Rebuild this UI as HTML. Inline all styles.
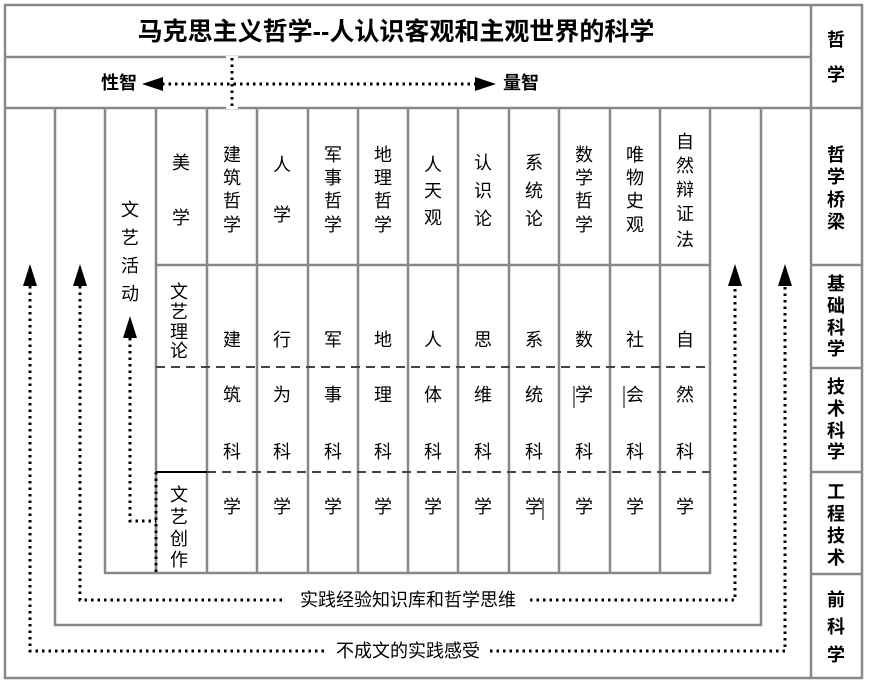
<!DOCTYPE html>
<html><head><meta charset="utf-8"><style>
html,body{margin:0;padding:0;background:#fff}
svg{display:block}
text{font-family:"Liberation Sans","Noto Sans CJK SC",sans-serif;font-size:18px;fill:#000;text-anchor:middle;dominant-baseline:central}
.b{font-weight:bold}
</style></head><body>
<svg width="870" height="682" viewBox="0 0 870 682" xmlns="http://www.w3.org/2000/svg">
<g stroke="#888" stroke-width="2.5" fill="none">
<rect x="5" y="5" width="857" height="673"/>
<line x1="811" y1="5" x2="811" y2="678"/>
<line x1="5" y1="57" x2="811" y2="57"/>
<line x1="5" y1="108" x2="862" y2="108"/>
<line x1="811" y1="265" x2="862" y2="265"/>
<line x1="811" y1="368" x2="862" y2="368"/>
<line x1="811" y1="472" x2="862" y2="472"/>
<line x1="811" y1="574" x2="862" y2="574"/>
<polyline points="55,108 55,625 761,625 761,108"/>
<polyline points="105,108 105,573 710,573 710,108"/>
<line x1="156" y1="108" x2="156" y2="573"/>
<line x1="207" y1="108" x2="207" y2="573"/>
<line x1="257" y1="108" x2="257" y2="573"/>
<line x1="308" y1="108" x2="308" y2="573"/>
<line x1="358" y1="108" x2="358" y2="573"/>
<line x1="408" y1="108" x2="408" y2="573"/>
<line x1="458" y1="108" x2="458" y2="573"/>
<line x1="509" y1="108" x2="509" y2="573"/>
<line x1="559" y1="108" x2="559" y2="573"/>
<line x1="610" y1="108" x2="610" y2="573"/>
<line x1="660" y1="108" x2="660" y2="573"/>
<line x1="156" y1="265" x2="710" y2="265"/>
</g>
<g stroke="#444" stroke-width="2" fill="none" stroke-dasharray="9,6">
<line x1="156" y1="367" x2="710" y2="367"/>
<line x1="207" y1="472" x2="710" y2="472"/>
</g>
<line x1="156" y1="472" x2="207" y2="472" stroke="#000" stroke-width="2"/>
<rect x="226" y="56" width="12" height="53" fill="#fff"/>
<g stroke="#000" stroke-width="3" fill="none" stroke-dasharray="2.5,4">
<line x1="232" y1="58" x2="232" y2="106"/>
<line x1="162" y1="84" x2="476" y2="84"/>
<polyline points="30,286 30,651 325,651"/>
<polyline points="490,651 785,651 785,286"/>
<polyline points="80,286 80,600 285,600"/>
<polyline points="530,600 735,600 735,286"/>
<polyline points="130,338 130,521 156,521"/>
<line x1="156" y1="472" x2="156" y2="573"/>
</g>
<g fill="#000">
<polygon points="142,84 163,77 163,91"/>
<polygon points="496,84 475,77 475,91"/>
<polygon points="30,264 23,286 37,286"/>
<polygon points="80,264 73,286 87,286"/>
<polygon points="735,264 728,286 742,286"/>
<polygon points="785,264 778,286 792,286"/>
<polygon points="130,316 123,338 137,338"/>
</g>
<text class="b" x="396" y="32" style="font-size:25px">马克思主义哲学--人认识客观和主观世界的科学</text>
<text class="b" x="119" y="83">性智</text>
<text class="b" x="521" y="83">量智</text>
<g>
<text class="b" x="836" y="40">哲</text><text class="b" x="836" y="75">学</text>
<text class="b" x="836" y="155">哲</text><text class="b" x="836" y="177">学</text><text class="b" x="836" y="200">桥</text><text class="b" x="836" y="222">梁</text>
<text class="b" x="836" y="284">基</text><text class="b" x="836" y="306">础</text><text class="b" x="836" y="328">科</text><text class="b" x="836" y="349">学</text>
<text class="b" x="836" y="387">技</text><text class="b" x="836" y="409">术</text><text class="b" x="836" y="431">科</text><text class="b" x="836" y="452">学</text>
<text class="b" x="836" y="492">工</text><text class="b" x="836" y="514">程</text><text class="b" x="836" y="536">技</text><text class="b" x="836" y="558">术</text>
<text class="b" x="836" y="600">前</text><text class="b" x="836" y="627">科</text><text class="b" x="836" y="655">学</text>
</g>
<text x="130" y="210">文</text><text x="130" y="238">艺</text><text x="130" y="266">活</text><text x="130" y="294">动</text>
<text x="181" y="163">美</text><text x="181" y="218">学</text>
<text x="232" y="155">建</text><text x="232" y="178">筑</text><text x="232" y="201">哲</text><text x="232" y="225">学</text>
<text x="282" y="165">人</text><text x="282" y="215">学</text>
<text x="333" y="155">军</text><text x="333" y="178">事</text><text x="333" y="201">哲</text><text x="333" y="225">学</text>
<text x="383" y="155">地</text><text x="383" y="178">理</text><text x="383" y="201">哲</text><text x="383" y="225">学</text>
<text x="433" y="165">人</text><text x="433" y="191">天</text><text x="433" y="218">观</text>
<text x="483" y="163">认</text><text x="483" y="191">识</text><text x="483" y="219">论</text>
<text x="534" y="163">系</text><text x="534" y="191">统</text><text x="534" y="219">论</text>
<text x="584" y="155">数</text><text x="584" y="178">学</text><text x="584" y="201">哲</text><text x="584" y="225">学</text>
<text x="635" y="155">唯</text><text x="635" y="178">物</text><text x="635" y="201">史</text><text x="635" y="225">观</text>
<text x="685" y="142">自</text><text x="685" y="166">然</text><text x="685" y="190">辩</text><text x="685" y="214">证</text><text x="685" y="240">法</text>
<text x="179" y="292">文</text><text x="179" y="312">艺</text><text x="179" y="332">理</text><text x="179" y="351">论</text>
<text x="179" y="495">文</text><text x="179" y="517">艺</text><text x="179" y="539">创</text><text x="179" y="560">作</text>
<g>
<text x="232" y="340">建</text><text x="282" y="340">行</text><text x="333" y="340">军</text><text x="383" y="340">地</text><text x="433" y="340">人</text><text x="483" y="340">思</text><text x="534" y="340">系</text><text x="584" y="340">数</text><text x="635" y="340">社</text><text x="685" y="340">自</text>
<text x="232" y="395">筑</text><text x="282" y="395">为</text><text x="333" y="395">事</text><text x="383" y="395">理</text><text x="433" y="395">体</text><text x="483" y="395">维</text><text x="534" y="395">统</text><text x="584" y="395">学</text><text x="635" y="395">会</text><text x="685" y="395">然</text>
<text x="232" y="452">科</text><text x="282" y="452">科</text><text x="333" y="452">科</text><text x="383" y="452">科</text><text x="433" y="452">科</text><text x="483" y="452">科</text><text x="534" y="452">科</text><text x="584" y="452">科</text><text x="635" y="452">科</text><text x="685" y="452">科</text>
<text x="232" y="507">学</text><text x="282" y="507">学</text><text x="333" y="507">学</text><text x="383" y="507">学</text><text x="433" y="507">学</text><text x="483" y="507">学</text><text x="534" y="507">学</text><text x="584" y="507">学</text><text x="635" y="507">学</text><text x="685" y="507">学</text>
</g>
<line x1="574" y1="386" x2="574" y2="408" stroke="#000" stroke-width="1"/>
<line x1="624" y1="386" x2="624" y2="408" stroke="#000" stroke-width="1"/>
<line x1="543" y1="498" x2="543" y2="520" stroke="#000" stroke-width="1"/>
<text x="408" y="600">实践经验知识库和哲学思维</text>
<text x="408" y="651">不成文的实践感受</text>
</svg>
</body></html>
